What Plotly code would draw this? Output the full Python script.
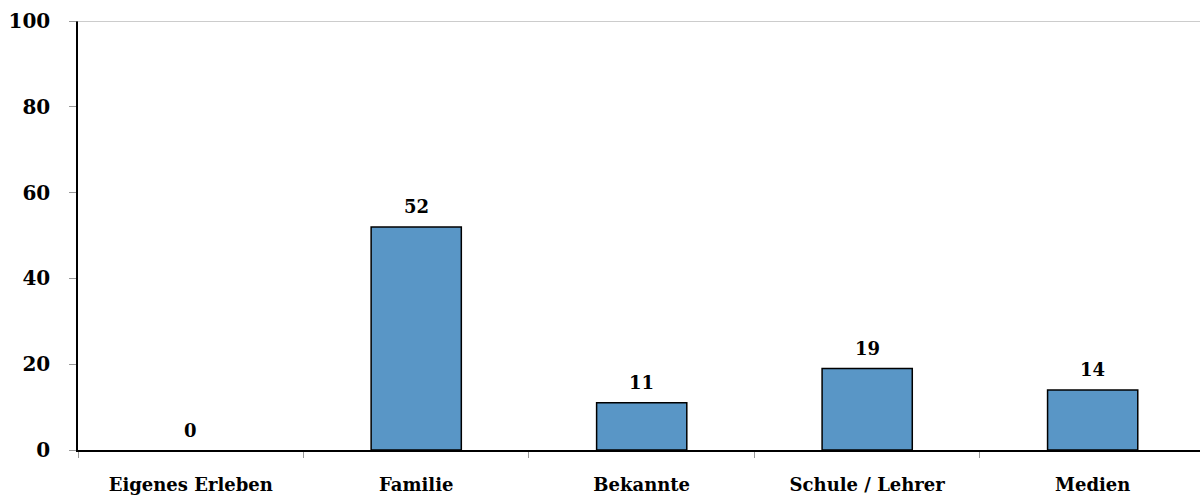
import plotly.graph_objects as go

categories = ["Eigenes Erleben", "Familie", "Bekannte", "Schule / Lehrer", "Medien"]
values = [0, 52, 11, 19, 14]
y_ticks = [0, 20, 40, 60, 80, 100]

FONT = "DejaVu Serif"

fig = go.Figure()
fig.add_trace(go.Bar(
    x=categories, y=values, width=0.4,
    marker=dict(color="#5996C6",
                line=dict(color="#000000", width=[1.5 if v > 0 else 0 for v in values])),
    hoverinfo="skip",
))

for c, v in zip(categories, values):
    fig.add_annotation(x=c, y=v, text=f"<b>{v}</b>", showarrow=False,
                       yanchor="middle", yshift=20,
                       font=dict(family=FONT, size=18, color="#000000"))

# gray line at top (100)
fig.add_shape(type="line", xref="paper", yref="y", x0=-0.0065, x1=1, y0=100, y1=100,
              line=dict(color="#999999", width=1.2))

fig.update_layout(
    width=1200, height=498,
    margin=dict(l=78, r=0, t=21, b=48),
    plot_bgcolor="white", paper_bgcolor="white",
    showlegend=False,
)
fig.update_xaxes(
    type="category", range=[-0.5, 4.476], tickson="boundaries", ticks="outside", ticklen=6,
    tickcolor="#999999", tickwidth=1.2,
    showline=True, linecolor="#000000", linewidth=1.5,
    showgrid=False, zeroline=False,
    tickfont=dict(family=FONT, size=18, color="#000000", weight="bold"),
    ticklabelstandoff=18,
)
fig.update_yaxes(
    range=[0, 100], tickvals=y_ticks, ticks="outside", ticklen=7,
    tickcolor="#999999", tickwidth=1.2,
    showline=True, linecolor="#000000", linewidth=1.5,
    showgrid=False, zeroline=False,
    tickfont=dict(family=FONT, size=20, color="#000000", weight="bold"),
    ticklabelstandoff=15,
)

fig.write_html(
    "out.html",
    config={"displayModeBar": False},
    post_script="document.body.style.margin='0';document.body.style.overflow='hidden';",
)
